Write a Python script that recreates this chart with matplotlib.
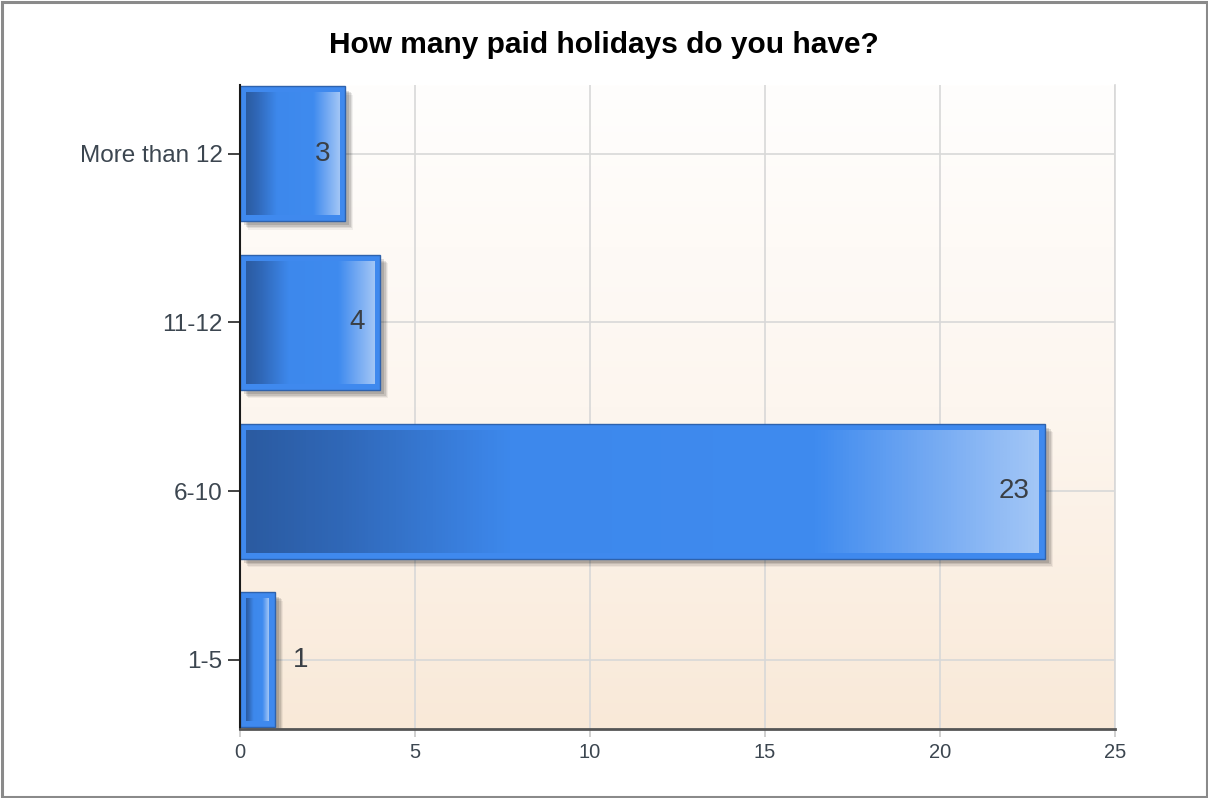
import numpy as np
import matplotlib
matplotlib.use("Agg")
import matplotlib.pyplot as plt
import matplotlib.patheffects as pe
from matplotlib.colors import LinearSegmentedColormap
from matplotlib.patches import Rectangle

# Survey answers (bottom to top) and their counts
categories = ["1-5", "6-10", "11-12", "More than 12"]
counts = [1, 23, 4, 3]
x_ticks = [0, 5, 10, 15, 20, 25]
title = "How many paid holidays do you have?"

plt.rcParams["font.family"] = ["Liberation Sans", "DejaVu Sans"]

W, H = 1208, 798
fig = plt.figure(figsize=(W / 100, H / 100), dpi=100)
fig.patch.set_facecolor("white")

ax_left, ax_right, ax_top, ax_bottom = 240, 1115, 85, 729
ax = fig.add_axes([ax_left / W, 1 - ax_bottom / H,
                   (ax_right - ax_left) / W, (ax_bottom - ax_top) / H])

xlim = (0, 25)
ylim = (-0.41, len(categories) - 1 + 0.408)

# warm vertical background gradient inside the plot area
bg = np.linspace(0, 1, 256)[:, None]
bg_cmap = LinearSegmentedColormap.from_list("bg", ["#f9e9d8", "#fdf6ef", "#fffefd"])
ax.imshow(bg, cmap=bg_cmap, extent=[0, 1, 0, 1], transform=ax.transAxes,
          aspect="auto", origin="lower", zorder=0, interpolation="bilinear")

# bars: bright blue frame with a soft drop shadow
ypos = np.arange(len(categories))
bars = ax.barh(ypos, counts, height=0.8, color="#3f89ee", edgecolor="#2e62ad",
               linewidth=1.0, zorder=3)
shadow = [pe.SimplePatchShadow(offset=(d, -d), shadow_rgbFace="#000000", alpha=a)
          for d, a in [(6, 0.05), (5, 0.08), (4, 0.10), (3, 0.12)]]
for b in bars:
    b.set_path_effects(shadow + [pe.Normal()])

# horizontal gradient filling each bar
bar_cmap = LinearSegmentedColormap.from_list(
    "bar", [(0.0, "#2b5ba1"), (0.12, "#3068b8"), (0.33, "#3d88ec"),
            (0.72, "#3f8bef"), (0.85, "#6ea6f2"), (1.0, "#a2c6f6")])
px_x = (xlim[1] - xlim[0]) / (ax_right - ax_left)
px_y = (ylim[1] - ylim[0]) / (ax_bottom - ax_top)
grad = np.linspace(0, 1, 256)[None, :]
for b in bars:
    x0, y0 = b.get_x(), b.get_y()
    x1, y1 = x0 + b.get_width(), y0 + b.get_height()
    ax.imshow(grad, cmap=bar_cmap,
              extent=[x0 + 6 * px_x, x1 - 6 * px_x, y0 + 6 * px_y, y1 - 6 * px_y],
              aspect="auto", zorder=4, interpolation="bilinear")

# value labels: inside the bar end when it fits, otherwise just after it
for b, v in zip(bars, counts):
    yc = b.get_y() + b.get_height() / 2
    if v >= 2:
        ax.annotate(str(v), (b.get_width(), yc), xytext=(-15, 0),
                    textcoords="offset pixels", ha="right", va="center",
                    fontsize=20, color="#3a3f45", zorder=6)
    else:
        ax.annotate(str(v), (b.get_width(), yc), xytext=(18, 0),
                    textcoords="offset pixels", ha="left", va="center",
                    fontsize=20, color="#3a3f45", zorder=6)

ax.set_xlim(*xlim)
ax.set_ylim(*ylim)
ax.set_xticks(x_ticks)
ax.set_xticklabels([str(t) for t in x_ticks])
ax.set_yticks(ypos)
ax.set_yticklabels(categories)

ax.grid(True, color="#d8d8d8", linewidth=1.2, zorder=1)
ax.set_axisbelow(True)

ax.tick_params(axis="y", length=8.5, width=1.2, color="#222222", pad=4,
               labelsize=17.5, labelcolor="#3c4650")
ax.tick_params(axis="x", length=6, width=1.2, color="#c8c8c8", pad=4,
               labelsize=14.5, labelcolor="#3c4650")

ax.spines["top"].set_visible(False)
ax.spines["right"].set_color("#d8d8d8")
ax.spines["right"].set_linewidth(1.2)
ax.spines["left"].set_color("#1a1a1a")
ax.spines["left"].set_linewidth(1.5)
ax.spines["bottom"].set_color("#555555")
ax.spines["bottom"].set_linewidth(2)
for s in ax.spines.values():
    s.set_zorder(5)

fig.text(604 / W, 1 - 45 / H, title, ha="center", va="center",
         fontsize=21.5, fontweight="bold", color="#000000")

# grey outer frame
fig.patches.append(Rectangle((1.5 / W, 1.5 / H), 1 - 3 / W, 1 - 3 / H,
                             transform=fig.transFigure, fill=False,
                             edgecolor="#8a8a8a", linewidth=2.2))

fig.savefig("out.png", dpi=100)
